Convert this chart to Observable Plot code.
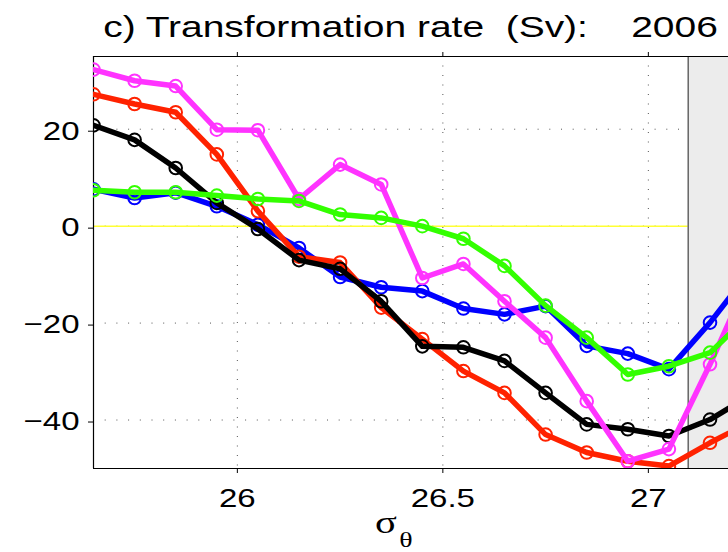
<!DOCTYPE html>
<html>
<head>
<meta charset="utf-8">
<script src="https://cdn.jsdelivr.net/npm/d3@7"></script>
<script src="https://cdn.jsdelivr.net/npm/@observablehq/plot@0.6"></script>
<style>
  body { margin: 0; background: #fff; }
  #chart { width: 728px; height: 552px; overflow: hidden; font-family: "Liberation Sans", Arial, sans-serif; }
  #title {
    height: 40px; width: 635px; margin-left: 93px; box-sizing: border-box;
    padding-top: 12px; font-size: 29.5px; line-height: 29px; text-align: center;
    white-space: pre; transform: scaleX(1.32); color: #000;
  }
  #chart svg { display: block; }
</style>
</head>
<body>
<div id="chart">
  <div id="title">c) Transformation rate  (Sv):    2006</div>
</div>
<script>
// Potential density classes (sigma-theta), one value per bin centre
const sigma = [25.65, 25.75, 25.85, 25.95, 26.05, 26.15, 26.25, 26.35, 26.45,
               26.55, 26.65, 26.75, 26.85, 26.95, 27.05, 27.15, 27.25];

// Transformation rate (Sv) per density class, one series per estimate
const blueRate    = [7.6, 5.8, 6.9, 4.1, 0.3, -4.5, -10.5, -12.6, -13.4, -17.0, -18.2, -16.5, -24.7, -26.3, -29.5, -19.9, -9.0];
const redRate     = [27.2, 25.2, 23.5, 14.8, 3.1, -6.3, -7.5, -16.8, -23.3, -29.9, -34.4, -43.0, -46.7, -48.5, -49.5, -44.7, -40.3];
const blackRate   = [20.8, 17.8, 12.0, 4.8, -0.6, -7.0, -8.8, -15.5, -24.8, -25.0, -27.8, -34.4, -40.9, -41.9, -43.3, -39.9, -34.8];
const magentaRate = [32.3, 30.0, 28.9, 19.9, 19.8, 5.6, 12.7, 8.6, -10.7, -7.8, -15.5, -23.0, -36.1, -48.5, -46.0, -28.5, -9.7];
const greenRate   = [7.4, 7.0, 7.0, 6.3, 5.6, 5.2, 2.4, 1.7, 0.0, -2.6, -8.2, -16.4, -23.0, -30.6, -28.9, -26.1, -18.0];

// Axis ticks and extents
const xTicks = [26, 26.5, 27];
const yTicks = [-40, -20, 0, 20];
const xDomain = [25.65, 27.195];
const yDomain = [-50, 35];

// Density classes beyond this value are shaded
const shadedFrom = 27.097;

// Drawing order: later series sit on top
const series = [
  { name: "blue",    color: "#0000ff", values: blueRate },
  { name: "red",     color: "#ff2200", values: redRate },
  { name: "black",   color: "#000000", values: blackRate },
  { name: "magenta", color: "#ff33ff", values: magentaRate },
  { name: "green",   color: "#33ff00", values: greenRate }
];

const seriesMarks = series.flatMap(s => {
  const rows = s.values.map((v, i) => ({ sigma: sigma[i], rate: v }));
  return [
    Plot.line(rows, { x: "sigma", y: "rate", stroke: s.color, strokeWidth: 5.5,
                      strokeLinejoin: "round", strokeLinecap: "round", clip: true }),
    Plot.dot(rows, { x: "sigma", y: "rate", r: 6.3, stroke: s.color, strokeWidth: 2,
                     fill: "none", clip: true })
  ];
});

const svg = Plot.plot({
  width: 728,
  height: 512,
  marginTop: 16,
  marginBottom: 84,
  marginLeft: 93,
  marginRight: 0,
  x: { domain: xDomain },
  y: { domain: yDomain },
  style: { fontFamily: "'Liberation Sans', Arial, sans-serif", fontSize: "26px", color: "#000", background: "#fff" },
  marks: [
    Plot.gridX({ ticks: xTicks, stroke: "#555", strokeOpacity: 1, strokeWidth: 1, strokeDasharray: "1,8.5" }),
    Plot.gridY({ ticks: yTicks, stroke: "#555", strokeOpacity: 1, strokeWidth: 1, strokeDasharray: "1,10.7" }),
    Plot.ruleY([0], { stroke: "#ffff33", strokeWidth: 1.5 }),
    Plot.rect([shadedFrom], { x1: d => d, x2: () => xDomain[1] + 1, fill: "#ececec", clip: true }),
    Plot.ruleX([shadedFrom], { stroke: "#666", strokeWidth: 1.5 }),
    Plot.ruleX([xDomain[0]], { stroke: "#000", strokeWidth: 1.2 }),
    Plot.ruleY(yDomain, { stroke: "#000", strokeWidth: 1.2 }),
    Plot.axisX({ anchor: "bottom", ticks: xTicks, tickSize: 5, tickPadding: 15, stroke: "#000",
                 tickFormat: d => `${d}`, fontSize: 26, label: null }),
    Plot.axisX({ anchor: "top", ticks: xTicks, tickSize: 5, stroke: "#000", tickFormat: () => "", label: null }),
    Plot.axisY({ anchor: "left", ticks: yTicks, tickSize: 5, tickPadding: 9, stroke: "#000",
                 fontSize: 26, label: null, dy: 2 }),
    Plot.text(["σ"], { frameAnchor: "bottom", dx: -25, dy: 64, lineAnchor: "bottom",
                       fontSize: 32, fontFamily: "'Liberation Serif', 'Times New Roman', serif" }),
    Plot.text(["θ"], { frameAnchor: "bottom", dx: -5, dy: 78, lineAnchor: "bottom",
                       fontSize: 22, fontFamily: "'Liberation Serif', 'Times New Roman', serif" }),
    ...seriesMarks
  ]
});

// Widen the lettering horizontally, keeping each label's anchor point fixed
const stretch = 1.27;
d3.select(svg).selectAll("text").each(function () {
  const t = d3.select(this);
  const tr = t.attr("transform");
  if (tr) {
    t.attr("transform", `${tr} scale(${stretch},1)`);
  } else {
    const x = +t.attr("x") || 0, y = +t.attr("y") || 0;
    t.attr("x", null).attr("y", null).attr("transform", `translate(${x},${y}) scale(${stretch},1)`);
  }
});

document.getElementById("chart").appendChild(svg);
</script>
</body>
</html>
